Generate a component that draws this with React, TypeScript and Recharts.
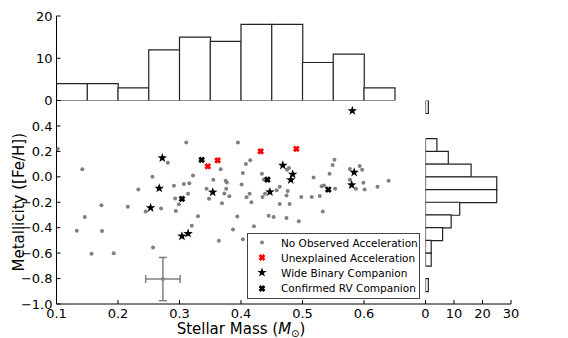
import React from "react";
import { ComposedChart, ScatterChart, Scatter, Bar, XAxis, YAxis, ErrorBar, Legend } from "recharts";

const FONT = "'DejaVu Sans', sans-serif";
const GRAY = "#808080";
const W = 568;
const H = 338;

// axis ticks and their labels ("" = tick mark only)
const massTicks = [0.1, 0.2, 0.3, 0.4, 0.5, 0.6, 0.7];
const massTickLabels = ["0.1", "0.2", "0.3", "0.4", "0.5", "0.6", ""];
const fehTicks = [-1.0, -0.8, -0.6, -0.4, -0.2, 0.0, 0.2, 0.4, 0.6];
const fehTickLabels = ["−1.0", "−0.8", "−0.6", "−0.4", "−0.2", "0.0", "0.2", "0.4", ""];
const massCountTicks = [0, 10, 20];
const massCountLabels = ["0", "10", "20"];
const fehCountTicks = [0, 10, 20, 30];
const fehCountLabels = ["0", "10", "20", "30"];

// histogram of stellar mass (top)
const massBinCenters = [0.125, 0.175, 0.225, 0.275, 0.325, 0.375, 0.425, 0.475, 0.525, 0.575, 0.625, 0.675];
const massBinCounts = [4, 4, 3, 12, 15, 14, 18, 18, 9, 11, 3, 0];

// histogram of metallicity (right)
const fehBinCenters = [0.55, 0.45, 0.35, 0.25, 0.15, 0.05, -0.05, -0.15, -0.25, -0.35, -0.45, -0.55, -0.65, -0.75, -0.85, -0.95];
const fehBinCounts = [1, 0, 0, 4, 8, 16, 25, 25, 12, 9, 6, 2, 2, 0, 1, 0];

// no observed acceleration
const noAccMass = [
  0.102, 0.281, 0.142, 0.256, 0.233, 0.291, 0.293,
  0.311, 0.395, 0.415, 0.408, 0.367, 0.403, 0.322, 0.478, 0.475, 0.434, 0.437, 0.355,
  0.375, 0.377, 0.307, 0.316, 0.401, 0.344, 0.376, 0.463, 0.458, 0.476, 0.474, 0.439,
  0.435, 0.414, 0.409, 0.373, 0.381, 0.348, 0.314, 0.498, 0.417, 0.369, 0.463, 0.479,
  0.552, 0.549, 0.544, 0.518, 0.577, 0.593, 0.597, 0.577, 0.599, 0.587, 0.601, 0.622,
  0.640, 0.531, 0.535, 0.553, 0.528, 0.515,
  0.173, 0.216, 0.245, 0.270, 0.294, 0.299, 0.146, 0.133, 0.174, 0.157, 0.193, 0.257,
  0.330, 0.394, 0.445, 0.453, 0.474, 0.494, 0.320, 0.387, 0.421, 0.364, 0.403, 0.533,
];
const noAccFeh = [
  0.22, 0.11, 0.06, 0.0, -0.1, -0.07, -0.17,
  0.27, 0.27, 0.13, 0.1, 0.06, 0.03, 0.01, 0.07, 0.056, 0.025, -0.022, -0.024,
  -0.03, -0.045, -0.056, -0.051, -0.061, -0.093, -0.093, -0.079, -0.106, -0.111, -0.147, -0.134,
  -0.158, -0.134, -0.161, -0.132, -0.153, -0.173, -0.134, -0.158, -0.2, -0.208, -0.213, -0.213,
  0.135, 0.093, 0.025, -0.006, 0.062, 0.085, 0.056, -0.024, -0.046, -0.093, -0.1, -0.079,
  -0.03, -0.074, -0.069, -0.093, -0.15, -0.158,
  -0.224, -0.236, -0.273, -0.25, -0.268, -0.216, -0.315, -0.425, -0.427, -0.605, -0.6, -0.555,
  -0.31, -0.312, -0.307, -0.315, -0.323, -0.349, -0.385, -0.414, -0.388, -0.503, -0.49, -0.273,
];

// unexplained acceleration
const unexplMass = [0.346, 0.362, 0.432, 0.49];
const unexplFeh = [0.082, 0.129, 0.2, 0.219];

// wide binary companion
const wideMass = [0.272, 0.267, 0.253, 0.354, 0.468, 0.484, 0.481, 0.447, 0.581, 0.584, 0.58, 0.314, 0.304];
const wideFeh = [0.148, -0.09, -0.244, -0.121, 0.09, 0.02, -0.024, -0.119, 0.519, 0.035, -0.064, -0.446, -0.467];

// confirmed RV companion
const rvMass = [0.336, 0.443, 0.304, 0.542];
const rvFeh = [0.133, -0.022, -0.173, -0.1];

// typical error bar
const errMass = [0.273];
const errFeh = [-0.804];
const errMassSize = [0.028];
const errFehSize = [0.17];

const zip = (xs: number[], ys: number[]) => xs.map((x, i) => ({ x, y: ys[i] }));

const starPath = (cx: number, cy: number, R = 5, r = 2) => {
  let d = "";
  for (let i = 0; i < 10; i++) {
    const a = -Math.PI / 2 + (i * Math.PI) / 5;
    const rad = i % 2 === 0 ? R : r;
    d += (i ? "L" : "M") + (cx + rad * Math.cos(a)).toFixed(2) + "," + (cy + rad * Math.sin(a)).toFixed(2);
  }
  return d + "Z";
};

const Dot = ({ cx, cy }: any) => <circle cx={cx} cy={cy} r={2} fill={GRAY} />;
const Star = ({ cx, cy }: any) => <path d={starPath(cx, cy)} fill="#000" />;
const Cross = ({ cx, cy, color }: any) => (
  <path
    d={`M${cx - 2.4},${cy - 2.4}L${cx + 2.4},${cy + 2.4}M${cx - 2.4},${cy + 2.4}L${cx + 2.4},${cy - 2.4}`}
    stroke={color}
    strokeWidth={2.8}
  />
);

type Side = "bottom" | "top" | "left" | "right";
function inwardTick(side: Side, ticks?: number[], labels?: string[]) {
  return (p: any) => {
    const { x, y, payload } = p;
    const L = 4;
    const txt = ticks && labels ? labels[ticks.indexOf(payload.value)] : "";
    const d = side === "bottom" ? [0, -L] : side === "top" ? [0, L] : side === "left" ? [L, 0] : [-L, 0];
    return (
      <g>
        <line x1={x} y1={y} x2={x + d[0]} y2={y + d[1]} stroke="#000" strokeWidth={1} />
        {txt && side === "bottom" ? (
          <text x={x} y={y + 14} textAnchor="middle" fontSize={13} fontFamily={FONT} fill="#000">
            {txt}
          </text>
        ) : null}
        {txt && side === "left" ? (
          <text x={x - 4} y={y} dy="0.36em" textAnchor="end" fontSize={13} fontFamily={FONT} fill="#000">
            {txt}
          </text>
        ) : null}
      </g>
    );
  };
}

const axisCommon = {
  tickLine: false,
  tickSize: 0,
  tickMargin: 0,
  interval: 0 as const,
  axisLine: { stroke: "#000", strokeWidth: 1 },
  allowDataOverflow: true,
};

const legendRows = [
  { label: "No Observed Acceleration", mark: (cx: number, cy: number) => <Dot cx={cx} cy={cy} /> },
  { label: "Unexplained Acceleration", mark: (cx: number, cy: number) => <Cross cx={cx} cy={cy} color="red" /> },
  { label: "Wide Binary Companion", mark: (cx: number, cy: number) => <Star cx={cx} cy={cy} /> },
  { label: "Confirmed RV Companion", mark: (cx: number, cy: number) => <Cross cx={cx} cy={cy} color="#000" /> },
];

const LegendBox = () => (
  <div
    style={{
      border: "1px solid #444",
      background: "#fff",
      width: 173,
      height: 66,
      boxSizing: "border-box",
      paddingTop: 1,
      fontFamily: FONT,
      fontSize: 10.5,
      color: "#000",
    }}
  >
    {legendRows.map((r) => (
      <div key={r.label} style={{ display: "flex", alignItems: "center", height: 15.2 }}>
        <svg width={33} height={15} style={{ flex: "none" }}>
          {r.mark(14, 7.5)}
        </svg>
        <span style={{ whiteSpace: "nowrap" }}>{r.label}</span>
      </div>
    ))}
  </div>
);

const XLabel = (props: any) => {
  const vb = props.viewBox;
  return (
    <text x={vb.x + vb.width / 2} y={vb.y + 30} textAnchor="middle" fontSize={15} fontFamily={FONT} fill="#000">
      Stellar Mass (<tspan fontStyle="italic">M</tspan>
      <tspan fontSize={10} dy={3}>⊙</tspan>
      <tspan dy={-3}>)</tspan>
    </text>
  );
};

const YLabel = (props: any) => {
  const vb = props.viewBox;
  const cx = vb.x + 24;
  const cy = vb.y + vb.height / 2;
  return (
    <text x={cx} y={cy} transform={`rotate(-90, ${cx}, ${cy})`} textAnchor="middle" fontSize={15} fontFamily={FONT} fill="#000">
      Metallicity ([Fe/H])
    </text>
  );
};

export default function App() {
  const massHist = massBinCenters.map((m, i) => ({ m, count: massBinCounts[i] }));
  const fehHist = fehBinCenters.map((f, i) => ({ f, count: fehBinCounts[i] }));
  const layer: React.CSSProperties = { position: "absolute", left: 0, top: 0 };

  return (
    <div style={{ position: "absolute", left: 0, top: 0, width: W, height: H, background: "#fff", fontFamily: FONT }}>
      {/* top histogram */}
      <div style={layer}>
        <ComposedChart
          width={W}
          height={H}
          data={massHist}
          barCategoryGap={0}
          barGap={0}
          margin={{ top: 16, right: 142.5, bottom: 237.5, left: 0 }}
        >
          <XAxis type="number" dataKey="m" domain={[0.1, 0.7]} ticks={massTicks} height={0} {...axisCommon} tick={inwardTick("bottom")} />
          <XAxis xAxisId="t" orientation="top" type="number" domain={[0.1, 0.7]} ticks={massTicks} height={0} {...axisCommon} tick={inwardTick("top")} />
          <YAxis type="number" domain={[0, 20]} ticks={massCountTicks} width={56.5} {...axisCommon} tick={inwardTick("left", massCountTicks, massCountLabels)} />
          <YAxis yAxisId="r" orientation="right" type="number" domain={[0, 20]} ticks={massCountTicks} width={0} {...axisCommon} tick={inwardTick("right")} />
          <Bar dataKey="count" fill="#fff" stroke="#222" strokeWidth={1.2} isAnimationActive={false} />
        </ComposedChart>
      </div>

      {/* right histogram */}
      <div style={layer}>
        <ComposedChart
          width={W}
          height={H}
          data={fehHist}
          layout="vertical"
          barCategoryGap={0}
          barGap={0}
          margin={{ top: 100.5, right: 57, bottom: 0, left: 425.5 }}
        >
          <XAxis type="number" dataKey="count" domain={[0, 30]} ticks={fehCountTicks} height={34} {...axisCommon} tick={inwardTick("bottom", fehCountTicks, fehCountLabels)} />
          <XAxis xAxisId="t" orientation="top" type="number" domain={[0, 30]} ticks={fehCountTicks} height={0} {...axisCommon} tick={inwardTick("top")} />
          <YAxis type="number" dataKey="f" domain={[-1, 0.6]} ticks={fehTicks} width={0} reversed {...axisCommon} tick={inwardTick("left")} />
          <YAxis yAxisId="r" orientation="right" type="number" domain={[-1, 0.6]} ticks={fehTicks} width={0} reversed {...axisCommon} tick={inwardTick("right")} />
          <Bar dataKey="count" fill="#fff" stroke="#222" strokeWidth={1.2} isAnimationActive={false} />
        </ComposedChart>
      </div>

      {/* main scatter */}
      <div style={layer}>
        <ScatterChart width={W} height={H} margin={{ top: 100.5, right: 142.5, bottom: 0, left: 0 }}>
          <XAxis
            type="number"
            dataKey="x"
            domain={[0.1, 0.7]}
            ticks={massTicks}
            height={34}
            {...axisCommon}
            tick={inwardTick("bottom", massTicks, massTickLabels)}
            label={XLabel}
          />
          <XAxis xAxisId="t" orientation="top" type="number" domain={[0.1, 0.7]} ticks={massTicks} height={0} {...axisCommon} tick={inwardTick("top")} />
          <YAxis
            type="number"
            dataKey="y"
            domain={[-1, 0.6]}
            ticks={fehTicks}
            width={56.5}
            {...axisCommon}
            tick={inwardTick("left", fehTicks, fehTickLabels)}
            label={YLabel}
          />
          <YAxis yAxisId="r" orientation="right" type="number" domain={[-1, 0.6]} ticks={fehTicks} width={0} {...axisCommon} tick={inwardTick("right")} />
          <Scatter data={zip(noAccMass, noAccFeh)} shape={Dot} isAnimationActive={false} />
          <Scatter
            data={errMass.map((x, i) => ({ x, y: errFeh[i], ex: errMassSize[i], ey: errFehSize[i] }))}
            shape={Dot}
            isAnimationActive={false}
          >
            <ErrorBar dataKey="ex" direction="x" width={4} stroke={GRAY} strokeWidth={1.5} isAnimationActive={false} />
            <ErrorBar dataKey="ey" direction="y" width={4} stroke={GRAY} strokeWidth={1.5} isAnimationActive={false} />
          </Scatter>
          <Scatter data={zip(unexplMass, unexplFeh)} shape={(p: any) => <Cross {...p} color="red" />} isAnimationActive={false} />
          <Scatter data={zip(wideMass, wideFeh)} shape={Star} isAnimationActive={false} />
          <Scatter data={zip(rvMass, rvFeh)} shape={(p: any) => <Cross {...p} color="#000" />} isAnimationActive={false} />
          <Legend
            layout="vertical"
            align="center"
            verticalAlign="middle"
            wrapperStyle={{ left: 247, top: 233, width: "auto" }}
            content={LegendBox}
          />
        </ScatterChart>
      </div>
    </div>
  );
}
